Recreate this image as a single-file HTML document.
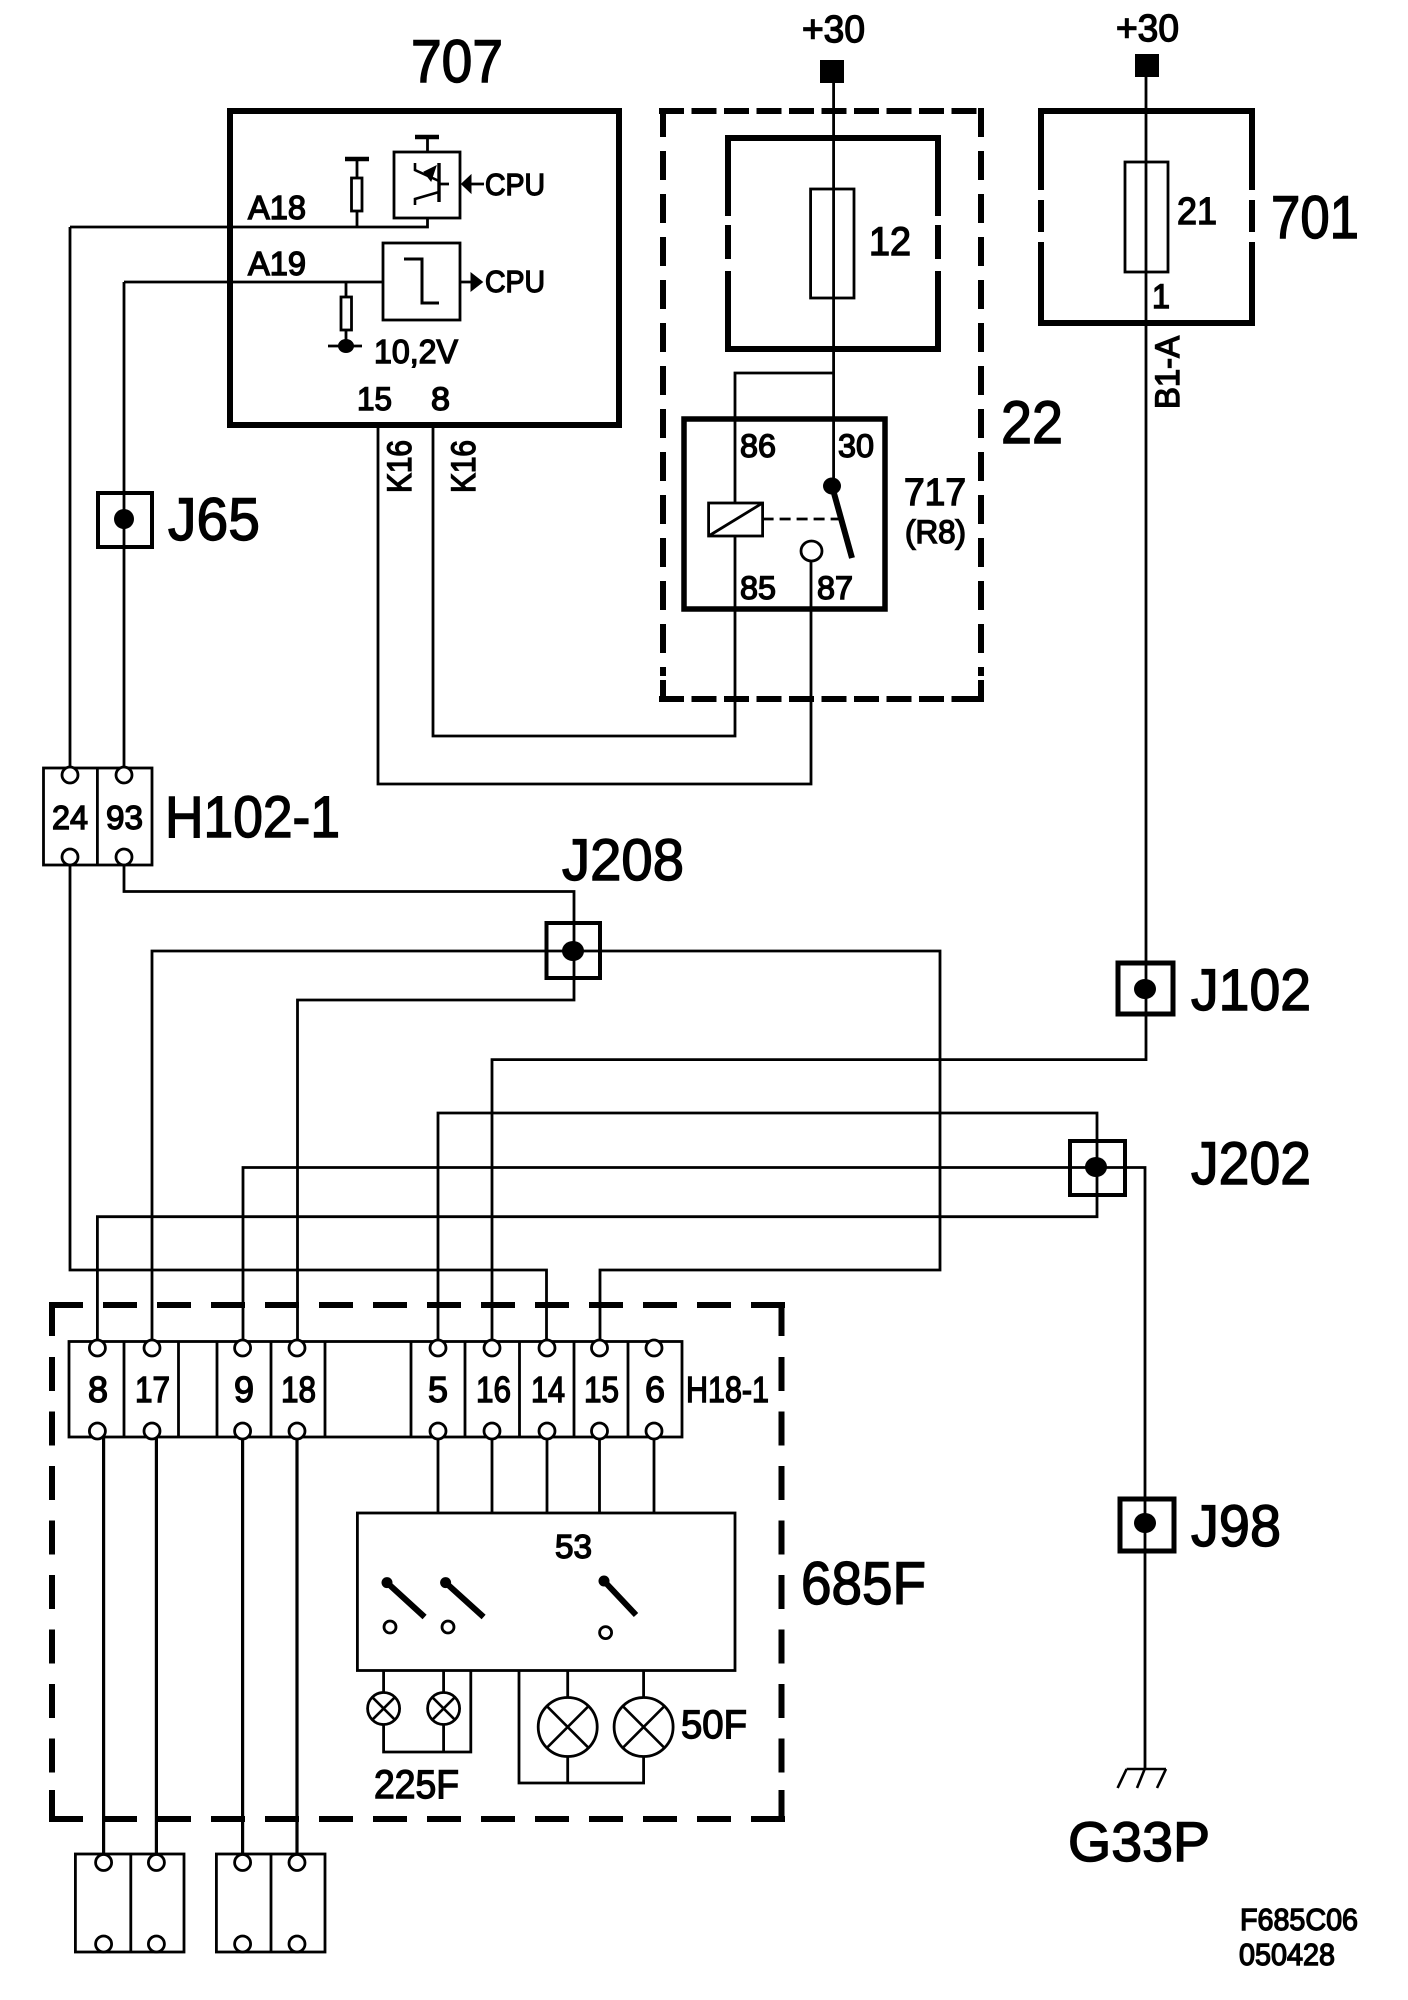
<!DOCTYPE html>
<html><head><meta charset="utf-8"><style>
html,body{margin:0;padding:0;background:#fff}
svg{display:block}
text{font-family:"Liberation Sans",sans-serif;fill:#000;stroke:#000;stroke-width:1.4}
</style></head><body>
<svg width="1408" height="2000" viewBox="0 0 1408 2000" xmlns="http://www.w3.org/2000/svg">
<rect width="1408" height="2000" fill="#fff"/>
<g fill="none" stroke="#000" stroke-width="2.8">
<path d="M124 857V891.5H574V1000H297.5V1341M124 282V768M70 227V768M70 865V1270H546.5V1341"/>
<path d="M70 227H427.5V218M124 282H383"/>
<path d="M378 425V784H811V561M433 425V736H735V536M735 503V373H833.6"/>
<path d="M152 1341V951H940V1270H600V1341"/>
<path d="M1146 77V1059.6H492V1341"/>
<path d="M438 1341V1113H1097V1216.7H97.4V1341"/>
<path d="M243 1341V1167.5H1145V1769"/>
<path d="M833.6 83V486"/>
<rect x="394" y="152" width="66" height="66"/>
<path d="M427.5 152V137M357 227V211M357 178V159"/>
<rect x="351.5" y="178" width="10.5" height="33"/>
<rect x="383" y="243" width="77" height="77"/>
<path d="M404 259H422V303H439" stroke-width="3"/>
<path d="M346 282V297M346 330V346M328 346H362"/>
<rect x="341" y="297" width="10.5" height="33"/>
<path d="M415 163V170L439 181M415 205V199L439 192" stroke-width="2.6"/>
<path d="M439 163V202" stroke-width="3.4"/>
<path d="M439 184H449M471 184H484M460 282H472"/>
<rect x="810.6" y="189" width="43.4" height="109"/>
<rect x="1125" y="162" width="43" height="110"/>
<rect x="708.6" y="503" width="54" height="33"/>
<path d="M708.6 536L762.6 503"/>
<path d="M762.6 519H842" stroke-dasharray="11 6"/>
<ellipse cx="811.5" cy="551" rx="10.5" ry="10"/>
</g>
<g fill="none" stroke="#000" stroke-width="6">
<rect x="230" y="111" width="389" height="314"/>
<path d="M728 138V216M728 225V259M728 271V349M938 138V216M938 225V259M938 271V349M725 138H941M725 349H941"/>
<path d="M1041 111V190M1041 200V232M1041 242V323M1252 111V190M1252 200V232M1252 242V323M1038 111H1255M1038 323H1255"/>
<rect x="684" y="419" width="201" height="190" stroke-width="5.5"/>
<path d="M659 111H984M659 699H984" stroke-dasharray="25 7.5"/>
<path d="M663 108V676M981 108V676" stroke-dasharray="29 14"/>
<path d="M663 680V699H684M981 680V699H960"/>
<path d="M49 1305H785M49 1819H785" stroke-dasharray="34 20"/>
<path d="M52 1305V1336M781.5 1305V1336M52 1357V1790M781.5 1357V1790" stroke-dasharray="34 20.5"/>
<path d="M52 1790V1819M781.5 1790V1819"/>
</g>
<g stroke="#000" fill="#000">
<path d="M415 137H439M345 159H369" stroke-width="4.5"/>
<path d="M424 172L436 166L431 181Z" stroke-width="1"/>
<path d="M461.5 184L471 175V193Z" stroke-width="1"/>
<path d="M482.5 282L471 273V291Z" stroke-width="1"/>
<ellipse cx="346" cy="346" rx="8" ry="7" stroke="none"/>
<rect x="820" y="60" width="24" height="23" stroke="none"/>
<rect x="1135" y="54" width="24" height="23" stroke="none"/>
<ellipse cx="832" cy="486" rx="9" ry="8.5" stroke="none"/>
<path d="M832 486L852 558" stroke-width="6"/>
</g>
<g fill="none" stroke="#000" stroke-width="4">
<rect x="98" y="493" width="54" height="54"/>
<rect x="546.5" y="923" width="53.5" height="55"/>
<rect x="1070" y="1141" width="55" height="54"/>
<rect x="1118" y="963" width="55" height="51" stroke-width="5"/>
<rect x="1120" y="1499" width="54" height="52" stroke-width="5"/>
</g>
<g fill="#000">
<circle cx="124" cy="519" r="10"/>
<ellipse cx="573" cy="951" rx="11" ry="10"/>
<ellipse cx="1096" cy="1167" rx="11" ry="10"/>
<ellipse cx="1145" cy="989" rx="11" ry="10"/>
<ellipse cx="1145" cy="1523" rx="11" ry="10"/>
</g>
<g fill="none" stroke="#000" stroke-width="2.8">
<rect x="43.5" y="768" width="108.5" height="97"/>
<path d="M97.4 768V865"/>
<rect x="69" y="1341.5" width="613" height="95.5"/>
<path d="M124 1341.5V1437M178.5 1341.5V1437M217 1341.5V1437M271 1341.5V1437M325 1341.5V1437M411 1341.5V1437M465 1341.5V1437M519.5 1341.5V1437M574 1341.5V1437M628 1341.5V1437"/>
<rect x="75.4" y="1854" width="108.6" height="98"/>
<path d="M130.8 1854V1952"/>
<rect x="216.4" y="1854" width="108.6" height="98"/>
<path d="M271 1854V1952"/>
<path d="M103.6 1437V1854M156.4 1437V1854M242.6 1437V1854M297 1437V1854" stroke-width="3.2"/>
<path d="M438 1437V1513M492 1437V1513M547 1437V1513M599.5 1437V1513M654 1437V1513"/>
<rect x="357.4" y="1513" width="377.6" height="157.5"/>
<path d="M383.6 1670.5V1692.5M383.6 1724.5V1752H470.8V1670.5M443.6 1670.5V1692.5M443.6 1724.5V1752"/>
<path d="M519 1670.5V1783H643.6V1756.5M567.7 1670.5V1697.5M567.7 1756.5V1783M643.6 1670.5V1697.5"/>
</g>
<g fill="#fff" stroke="#000" stroke-width="2.8">
<circle cx="70" cy="775" r="8"/><circle cx="124" cy="775" r="8"/>
<circle cx="70" cy="857" r="8"/><circle cx="124" cy="857" r="8"/>
<circle cx="97.4" cy="1348" r="8"/><circle cx="152" cy="1348" r="8"/><circle cx="242.6" cy="1348" r="8"/><circle cx="297" cy="1348" r="8"/><circle cx="438" cy="1348" r="8"/><circle cx="492" cy="1348" r="8"/><circle cx="547" cy="1348" r="8"/><circle cx="599.5" cy="1348" r="8"/><circle cx="654" cy="1348" r="8"/>
<circle cx="97.4" cy="1431" r="8"/><circle cx="152" cy="1431" r="8"/><circle cx="242.6" cy="1431" r="8"/><circle cx="297" cy="1431" r="8"/><circle cx="438" cy="1431" r="8"/><circle cx="492" cy="1431" r="8"/><circle cx="547" cy="1431" r="8"/><circle cx="599.5" cy="1431" r="8"/><circle cx="654" cy="1431" r="8"/>
<circle cx="103.6" cy="1862.5" r="8"/><circle cx="156.4" cy="1862.5" r="8"/><circle cx="242.6" cy="1862.5" r="8"/><circle cx="297" cy="1862.5" r="8"/>
<circle cx="103.6" cy="1944" r="8"/><circle cx="156.4" cy="1944" r="8"/><circle cx="242.6" cy="1944" r="8"/><circle cx="297" cy="1944" r="8"/>
<circle cx="390" cy="1627" r="6"/><circle cx="448" cy="1627" r="6"/><circle cx="605.6" cy="1632.6" r="6"/>
<circle cx="383.6" cy="1708.5" r="16"/><circle cx="443.6" cy="1708.5" r="16"/>
<ellipse cx="567.7" cy="1727" rx="29.5" ry="29.5"/><ellipse cx="643.6" cy="1727" rx="29.5" ry="29.5"/>
</g>
<g fill="none" stroke="#000" stroke-width="2.6">
<path d="M372.3 1697.2L394.9 1719.8M394.9 1697.2L372.3 1719.8M432.3 1697.2L454.9 1719.8M454.9 1697.2L432.3 1719.8"/>
<path d="M546.8 1706.1L588.6 1747.9M588.6 1706.1L546.8 1747.9M622.7 1706.1L664.5 1747.9M664.5 1706.1L622.7 1747.9"/>
<path d="M1126.6 1769H1166M1126.6 1769L1117.6 1788M1144.7 1769L1137 1788M1166 1769L1157 1788"/>
</g>
<g stroke="#000" fill="#000">
<path d="M387 1582.6L424.6 1617M445.6 1582.6L483.6 1617M604 1581L636 1615" stroke-width="6"/>
<circle cx="387" cy="1582.6" r="5.5" stroke="none"/><circle cx="445.6" cy="1582.6" r="5.5" stroke="none"/><circle cx="604" cy="1581" r="5.5" stroke="none"/>
</g>
<g>
<text x="411" y="82" font-size="60" textLength="92" lengthAdjust="spacingAndGlyphs">707</text>
<text x="248" y="219" font-size="33" textLength="58" lengthAdjust="spacingAndGlyphs">A18</text>
<text x="248" y="275" font-size="33" textLength="58" lengthAdjust="spacingAndGlyphs">A19</text>
<text x="485" y="195" font-size="31" textLength="60" lengthAdjust="spacingAndGlyphs">CPU</text>
<text x="485" y="292" font-size="31" textLength="60" lengthAdjust="spacingAndGlyphs">CPU</text>
<text x="374" y="363" font-size="33" textLength="84" lengthAdjust="spacingAndGlyphs">10,2V</text>
<text x="357" y="410" font-size="32" textLength="35" lengthAdjust="spacingAndGlyphs">15</text>
<text x="431" y="410" font-size="32" textLength="19" lengthAdjust="spacingAndGlyphs">8</text>
<text transform="translate(411 493) rotate(-90)" font-size="34" textLength="53" lengthAdjust="spacingAndGlyphs">K16</text>
<text transform="translate(475 493) rotate(-90)" font-size="34" textLength="53" lengthAdjust="spacingAndGlyphs">K16</text>
<text x="168" y="540" font-size="60" textLength="92" lengthAdjust="spacingAndGlyphs">J65</text>
<text x="802" y="42" font-size="38" textLength="63" lengthAdjust="spacingAndGlyphs">+30</text>
<text x="1116" y="41" font-size="38" textLength="63" lengthAdjust="spacingAndGlyphs">+30</text>
<text x="869" y="255" font-size="40" textLength="42" lengthAdjust="spacingAndGlyphs">12</text>
<text x="1177" y="224" font-size="38" textLength="40" lengthAdjust="spacingAndGlyphs">21</text>
<text x="1152" y="308" font-size="34" textLength="18" lengthAdjust="spacingAndGlyphs">1</text>
<text x="1271" y="238" font-size="60" textLength="88" lengthAdjust="spacingAndGlyphs">701</text>
<text x="1001" y="443" font-size="60" textLength="62" lengthAdjust="spacingAndGlyphs">22</text>
<text transform="translate(1179 409) rotate(-90)" font-size="34" textLength="73" lengthAdjust="spacingAndGlyphs">B1-A</text>
<text x="740" y="457" font-size="32" textLength="36" lengthAdjust="spacingAndGlyphs">86</text>
<text x="838" y="457" font-size="32" textLength="36" lengthAdjust="spacingAndGlyphs">30</text>
<text x="740" y="599" font-size="32" textLength="36" lengthAdjust="spacingAndGlyphs">85</text>
<text x="817" y="599" font-size="32" textLength="36" lengthAdjust="spacingAndGlyphs">87</text>
<text x="904" y="505" font-size="38" textLength="62" lengthAdjust="spacingAndGlyphs">717</text>
<text x="905" y="543" font-size="32" textLength="61" lengthAdjust="spacingAndGlyphs">(R8)</text>
<text x="52" y="829" font-size="33" textLength="36" lengthAdjust="spacingAndGlyphs">24</text>
<text x="106" y="829" font-size="33" textLength="37" lengthAdjust="spacingAndGlyphs">93</text>
<text x="165" y="837" font-size="58" textLength="175" lengthAdjust="spacingAndGlyphs">H102-1</text>
<text x="562" y="880" font-size="58" textLength="122" lengthAdjust="spacingAndGlyphs">J208</text>
<text x="1191" y="1010" font-size="58" textLength="120" lengthAdjust="spacingAndGlyphs">J102</text>
<text x="1191" y="1184" font-size="60" textLength="120" lengthAdjust="spacingAndGlyphs">J202</text>
<text x="1191" y="1546" font-size="58" textLength="90" lengthAdjust="spacingAndGlyphs">J98</text>
<text x="801" y="1604" font-size="60" textLength="125" lengthAdjust="spacingAndGlyphs">685F</text>
<text x="1068" y="1861" font-size="56" textLength="142" lengthAdjust="spacingAndGlyphs">G33P</text>
<text x="1240" y="1930" font-size="31" textLength="118" lengthAdjust="spacingAndGlyphs">F685C06</text>
<text x="1239" y="1965" font-size="31" textLength="96" lengthAdjust="spacingAndGlyphs">050428</text>
<text x="88" y="1402" font-size="36" textLength="20" lengthAdjust="spacingAndGlyphs">8</text>
<text x="135" y="1402" font-size="36" textLength="35" lengthAdjust="spacingAndGlyphs">17</text>
<text x="234" y="1402" font-size="36" textLength="20" lengthAdjust="spacingAndGlyphs">9</text>
<text x="281" y="1402" font-size="36" textLength="35" lengthAdjust="spacingAndGlyphs">18</text>
<text x="428" y="1402" font-size="36" textLength="20" lengthAdjust="spacingAndGlyphs">5</text>
<text x="476" y="1402" font-size="36" textLength="35" lengthAdjust="spacingAndGlyphs">16</text>
<text x="531" y="1402" font-size="36" textLength="34" lengthAdjust="spacingAndGlyphs">14</text>
<text x="584" y="1402" font-size="36" textLength="35" lengthAdjust="spacingAndGlyphs">15</text>
<text x="645" y="1402" font-size="36" textLength="20" lengthAdjust="spacingAndGlyphs">6</text>
<text x="686" y="1402" font-size="36" textLength="83" lengthAdjust="spacingAndGlyphs">H18-1</text>
<text x="555" y="1558" font-size="33" textLength="37" lengthAdjust="spacingAndGlyphs">53</text>
<text x="374" y="1798" font-size="40" textLength="85" lengthAdjust="spacingAndGlyphs">225F</text>
<text x="681" y="1738" font-size="40" textLength="66" lengthAdjust="spacingAndGlyphs">50F</text>
</g>
</svg>
</body></html>
